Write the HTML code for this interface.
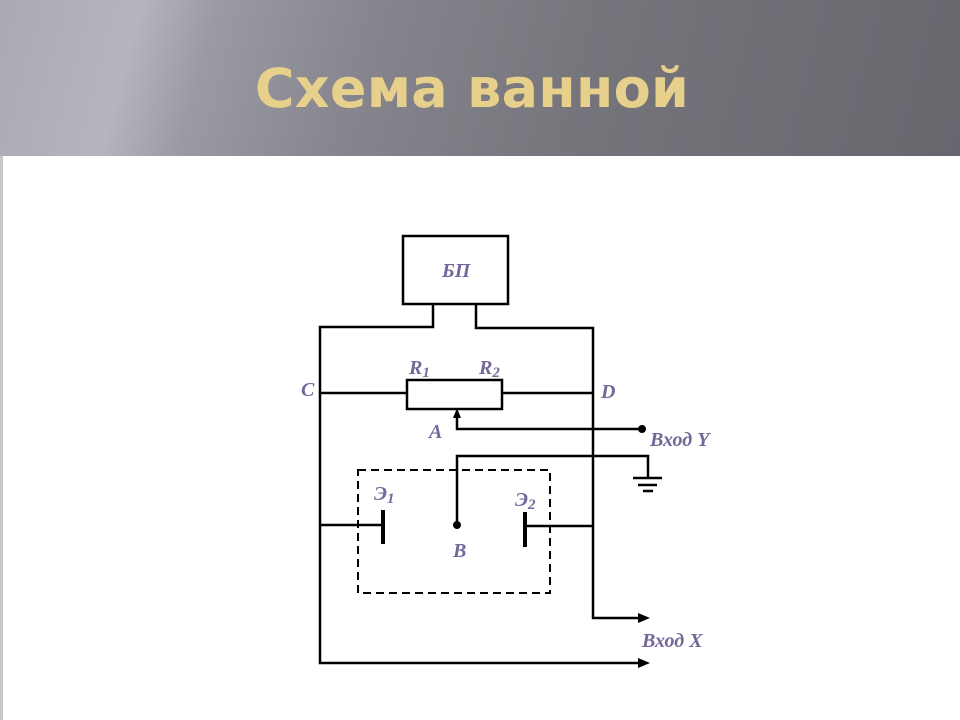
<!DOCTYPE html>
<html><head><meta charset="utf-8"><style>
html,body{margin:0;padding:0;width:960px;height:720px;overflow:hidden;background:#fff}
.hdr{position:absolute;left:0;top:0;width:960px;height:156px;
background:linear-gradient(105deg,#a9a9b1 0%,#b5b5bd 14%,#9a9aa2 22%,#86858d 38%,#76757c 60%,#67666d 100%)}
.t{position:absolute;left:0;width:944px;top:57px;text-align:center;font:bold 54px "DejaVu Sans",sans-serif;color:#e6d08c;letter-spacing:0.3px}
.side{position:absolute;left:0;top:156px;width:3px;height:564px;background:#c8c8cc}
</style></head><body>
<div class="hdr"></div><div class="t">Схема ванной</div><div class="side"></div>
<svg width="960" height="720" style="position:absolute;left:0;top:0" font-family="Liberation Serif,serif" font-style="italic" font-weight="bold" fill="#76679a">
<g stroke="#000" stroke-width="2.5" fill="none">
<rect x="403" y="236" width="105" height="68"/>
<polyline points="433,304 433,327 320,327 320,663 640,663"/>
<polyline points="476,304 476,328 593,328 593,618 640,618"/>
<rect x="407" y="380" width="95" height="29"/>
<line x1="320" y1="393" x2="407" y2="393"/>
<line x1="502" y1="393" x2="593" y2="393"/>
<polyline points="642,429 457,429 457,416"/>
<polyline points="457,525 457,456 648,456 648,478"/>
<line x1="633" y1="478" x2="662" y2="478"/>
<line x1="638" y1="485" x2="657" y2="485"/>
<line x1="643" y1="491" x2="653" y2="491"/>
<line x1="320" y1="525" x2="383" y2="525"/>
<line x1="525" y1="526" x2="593" y2="526"/>
<rect x="358" y="470" width="192" height="123" stroke-width="2" stroke-dasharray="8,5"/>
<line x1="383" y1="510" x2="383" y2="544" stroke-width="4"/>
<line x1="525" y1="512" x2="525" y2="547" stroke-width="4"/>
</g>
<g fill="#000">
<polygon points="457,408 453,418 461,418"/>
<polygon points="650,618 638,613 638,623"/>
<polygon points="650,663 638,658 638,668"/>
<circle cx="642" cy="429" r="4"/>
<circle cx="457" cy="525" r="4"/>
</g>
<g font-size="20">
<text x="442" y="277">БП</text>
<text x="409" y="374">R<tspan font-size="15" dy="3">1</tspan></text>
<text x="479" y="374">R<tspan font-size="15" dy="3">2</tspan></text>
<text x="301" y="396">C</text>
<text x="601" y="398">D</text>
<text x="429" y="438">A</text>
<text x="650" y="446">Вход Y</text>
<text x="374" y="500">Э<tspan font-size="15" dy="3">1</tspan></text>
<text x="515" y="506">Э<tspan font-size="15" dy="3">2</tspan></text>
<text x="453" y="557">B</text>
<text x="642" y="647">Вход X</text>
</g>
</svg>
</body></html>
